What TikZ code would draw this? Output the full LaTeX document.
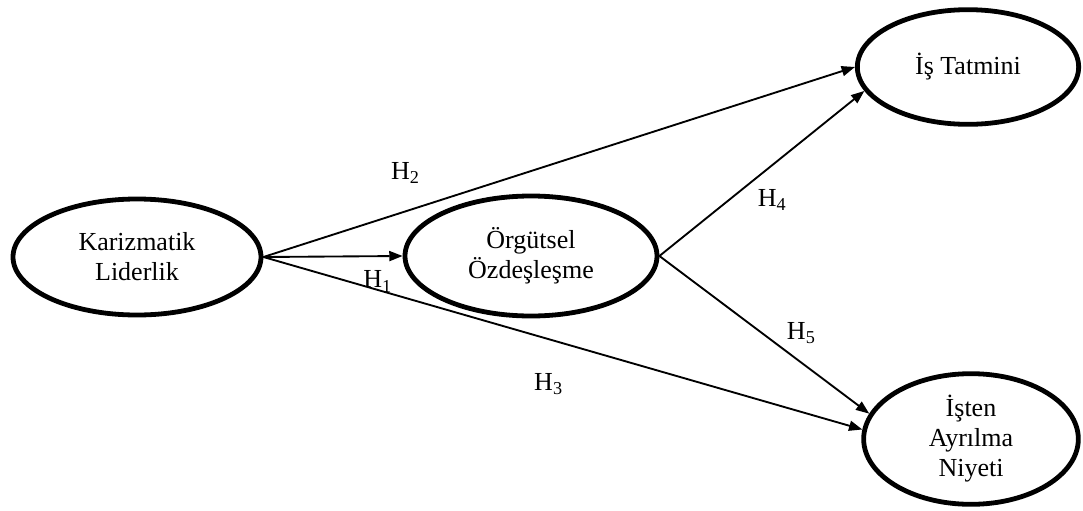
\documentclass[tikz,border=0pt]{standalone}
\usepackage{fontspec}
\setmainfont{Liberation Serif}
\usepackage{tikz}
\usetikzlibrary{shapes.geometric, arrows.meta, positioning}

\begin{document}
\begin{tikzpicture}[x=0.75pt, y=-0.75pt,
  construct/.style={ellipse, draw=black, line width=3.6pt, inner sep=0pt,
                font=\fontsize{19.5}{22.5}\selectfont, align=center},
  arr/.style={-{Triangle[length=10pt, width=7.5pt]}, line width=1.4pt, black},
  lbl/.style={font=\fontsize{19.5}{22.5}\selectfont, inner sep=0pt},
]
  \useasboundingbox (0,0) rectangle (1083,511);

  \node[construct, minimum width=186pt, minimum height=87pt] (kl) at (137,257) {Karizmatik\\Liderlik};
  \node[construct, minimum width=189pt, minimum height=90pt] (oo) at (531,256) {Örgütsel\\Özdeşleşme};
  \node[construct, minimum width=166pt, minimum height=86pt] (it) at (968,67)  {İş Tatmini};
  \node[construct, minimum width=161pt, minimum height=98pt] (ia) at (971,439) {İşten\\Ayrılma\\Niyeti};

  \draw[arr] (kl.east) -- node[lbl, pos=.82, yshift=-19pt]{H\textsubscript{1}} (oo.west);
  \draw[arr] (kl.east) -- node[lbl, pos=.24, yshift=29pt]{H\textsubscript{2}} (it.west);
  \draw[arr] (kl.east) -- node[lbl, pos=.476, yshift=-34pt]{H\textsubscript{3}} (ia.175);
  \draw[arr] (oo.east) -- node[lbl, pos=.55, yshift=-26pt]{H\textsubscript{4}} (it.193);
  \draw[arr] (oo.east) -- node[lbl, pos=.676, yshift=22pt]{H\textsubscript{5}} (ia.166);
\end{tikzpicture}
\end{document}
